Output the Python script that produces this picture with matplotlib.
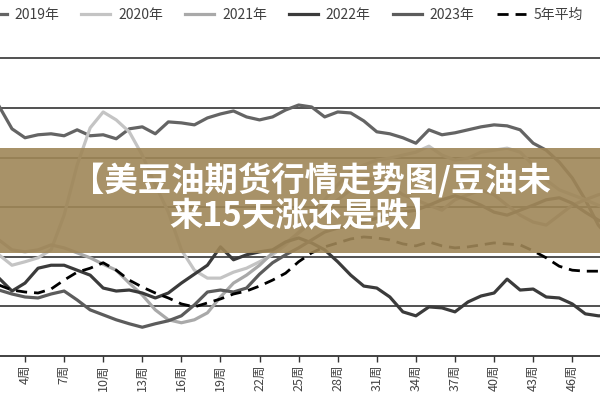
import matplotlib
matplotlib.use('Agg')
import matplotlib.pyplot as plt
from matplotlib.patches import Rectangle

plt.rcParams['font.family'] = ['Noto Sans CJK SC', 'DejaVu Sans']

# weeks shown (chart is cropped on both sides)
weeks = list(range(2, 50))

y2019 = [50.4, 45.8, 44.0, 44.6, 44.8, 44.4, 45.6, 44.4, 44.6, 43.8,
         45.8, 46.2, 44.8, 47.2, 47.0, 46.6, 48.0, 48.8, 49.4, 48.2,
         47.6, 48.2, 49.6, 50.6, 50.2, 48.2, 49.2, 49.0, 47.4, 45.2,
         44.8, 44.0, 42.9, 45.6, 44.6, 45.0, 45.6, 46.2, 46.6, 46.4,
         45.6, 42.9, 41.5, 39.1, 35.9, 31.5, 26.4, 23.4]
y2020 = [20.4, 18.3, 19.0, 19.8, 21.4, 28.4, 38.5, 46.0, 49.2, 47.6,
         45.2, 40.5, 34.5, 29.0, 21.4, 17.3, 15.7, 15.7, 16.9, 17.7,
         19.0, 20.4, 22.4, 25.0, 27.4, 31.5, 34.5, 37.1, 38.5, 39.5,
         39.9, 40.5, 41.1, 42.3, 40.5, 39.5, 39.9, 41.1, 41.5, 41.9,
         41.1, 38.5, 35.5, 33.5, 32.5, 31.5, 30.4, 29.4]
y2021 = [23.4, 21.4, 21.0, 21.4, 22.4, 21.8, 20.8, 19.8, 18.5, 17.3,
         14.7, 12.3, 9.3, 7.3, 6.7, 7.3, 8.7, 11.9, 14.7, 16.3,
         18.3, 20.8, 22.8, 24.8, 27.0, 29.4, 31.5, 33.5, 35.5, 35.9,
         34.5, 32.5, 31.5, 30.4, 29.4, 31.5, 32.5, 33.5, 32.5, 30.4,
         28.4, 27.0, 26.4, 28.4, 30.4, 31.5, 32.5, 33.1]
y2022 = [15.7, 13.1, 14.7, 17.7, 18.3, 18.3, 17.3, 16.3, 13.7, 13.1,
         13.3, 12.7, 11.7, 12.7, 14.7, 16.5, 18.3, 22.0, 19.4, 20.4,
         21.0, 21.4, 23.0, 23.8, 22.8, 21.4, 19.0, 16.3, 14.1, 13.7,
         11.9, 8.9, 8.1, 9.9, 9.7, 8.9, 10.9, 12.1, 12.7, 15.5,
         13.3, 13.5, 11.9, 11.7, 10.5, 8.5, 8.1, 8.1]
y2023 = [13.3, 12.5, 11.9, 11.7, 12.5, 13.1, 11.3, 9.3, 8.3, 7.3,
         6.5, 5.8, 6.5, 7.1, 8.1, 10.3, 12.9, 13.3, 12.9, 13.7,
         16.5, 18.8, 20.4, 21.8, 23.4, 25.0, 25.8, 26.4, 27.0, 27.8,
         28.4, 29.0, 29.4, 30.4, 31.5, 32.3, 31.5, 30.4, 29.0, 28.4,
         29.4, 30.4, 31.5, 31.9, 30.8, 29.0, 27.4, 26.4]
avg5 = [14.3, 13.3, 12.9, 12.7, 13.5, 15.3, 16.9, 17.7, 18.8, 17.3,
        15.3, 13.9, 12.7, 11.7, 10.5, 9.9, 10.7, 11.5, 12.5, 13.1,
        14.1, 15.3, 16.7, 19.0, 20.8, 22.0, 22.8, 23.6, 24.0, 23.8,
        23.4, 22.6, 22.2, 23.0, 22.2, 21.8, 22.0, 22.4, 22.8, 22.6,
        22.4, 21.2, 19.8, 18.1, 17.3, 17.1, 17.1, 17.1]

tick_weeks = list(range(4, 47, 3))
tick_labels = [f"{w}周" for w in tick_weeks]

fig = plt.figure(figsize=(6, 4), dpi=100)
ax = fig.add_axes([0, 0.11, 1, 0.806])

ax.plot(weeks, y2019, color='#646464', lw=2.3, label='2019年', zorder=3)
ax.plot(weeks, y2020, color='#c4c4c4', lw=2.3, label='2020年', zorder=3)
ax.plot(weeks, y2021, color='#a9a9a9', lw=2.3, label='2021年', zorder=3)
ax.plot(weeks, y2022, color='#3b3b3b', lw=2.3, label='2022年', zorder=3)
ax.plot(weeks, y2023, color='#5c5c5c', lw=2.3, label='2023年', zorder=3)
ax.plot(weeks, avg5, color='black', lw=2.0, ls=(0, (4, 2.5)), label='5年平均', zorder=4)

ax.set_xticks(tick_weeks)
ax.set_xticklabels(tick_labels, rotation=90, fontsize=9, color='#444444')
ax.tick_params(axis='x', length=4, width=1, color='#333333', pad=2)
ax.set_yticks([10, 20, 30, 40, 50, 60])
ax.yaxis.grid(True, color='#333333', lw=1.2)
ax.set_axisbelow(True)
ax.tick_params(axis='y', length=0, labelleft=False)

# limits after the ticks, so the ticks do not widen the view
ax.set_xlim(2.08, 48.13)
ax.set_ylim(0, 65)

for side in ['left', 'right', 'top']:
    ax.spines[side].set_visible(False)
ax.spines['bottom'].set_color('#333333')
ax.spines['bottom'].set_linewidth(1.3)

fig.legend(loc='center', bbox_to_anchor=(0.467, 1 - 15 / 400), ncol=6,
           frameon=False, fontsize=10, handlelength=2.1, handletextpad=0.55,
           columnspacing=1.6, labelcolor='#404040')

# title banner laid over the chart
fig.patches.append(Rectangle((0, 1 - 253 / 400), 1, 105 / 400,
                             transform=fig.transFigure, facecolor='#9f8657',
                             alpha=0.9, edgecolor='none', zorder=6))
fig.text(311 / 600, 1 - 181 / 400, '【美豆油期货行情走势图/豆油未', ha='center', va='center',
         color='white', fontsize=24, fontweight='bold', zorder=7)
fig.text(306 / 600, 1 - 217 / 400, '来15天涨还是跌】', ha='center', va='center',
         color='white', fontsize=24, fontweight='bold', zorder=7)

fig.savefig('out.png', dpi=100)
